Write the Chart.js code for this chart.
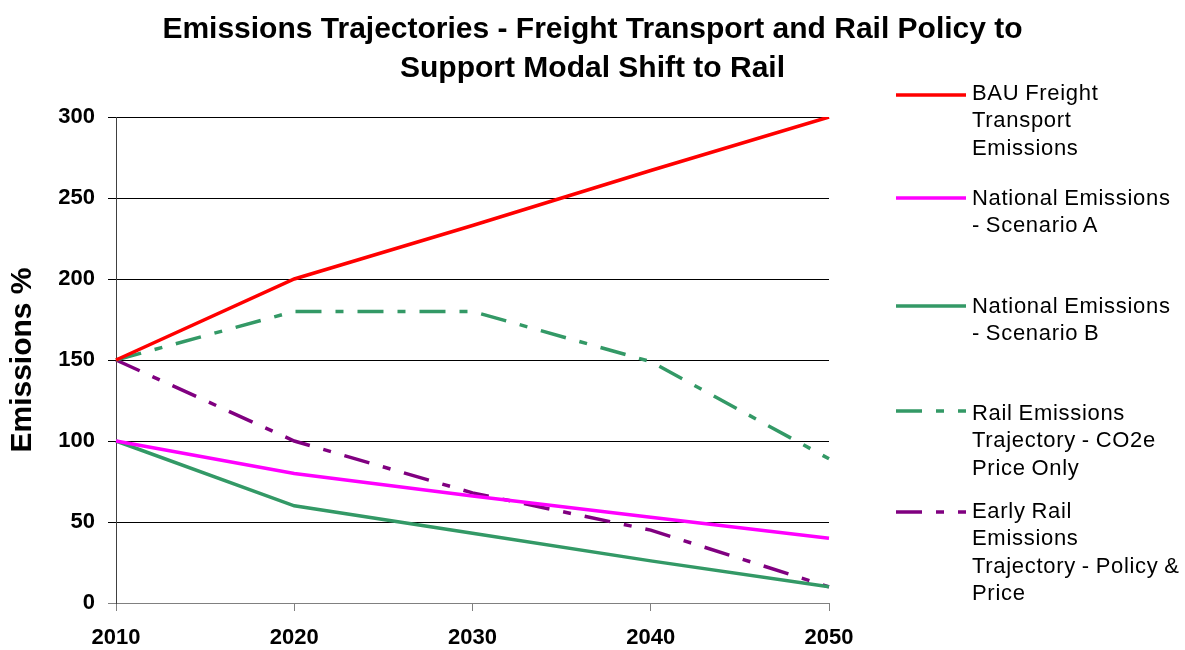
<!DOCTYPE html>
<html>
<head>
<meta charset="utf-8">
<script src="https://cdn.jsdelivr.net/npm/chart.js@4/dist/chart.umd.min.js"></script>
<style>
html,body{margin:0;padding:0;background:#fff;}
#wrap{position:relative;width:1185px;height:650px;overflow:hidden;}
#c{position:absolute;left:0;top:0;}
#legend{position:absolute;left:0;top:0;width:1185px;height:650px;pointer-events:none;}
.lg-text{position:absolute;left:972px;font-family:"Liberation Sans",Arial,sans-serif;font-size:22px;line-height:27.5px;letter-spacing:0.7px;word-spacing:-1px;color:#000;white-space:nowrap;}
</style>
</head>
<body>
<div id="wrap">
  <canvas id="c" width="1185" height="650"></canvas>
  <div id="legend"></div>
</div>
<script>
// ---- data ----
const years = ['2010', '2020', '2030', '2040', '2050'];
const bauFreight = [150, 200, 233, 267, 300];
const nationalA = [100, 80, 66, 53, 40];
const nationalB = [100, 60, 43, 26, 10];
const railPriceOnly = [150, 180, 180, 149, 89];
const earlyRailPolicy = [150, 100, 68, 45, 10];
const yTicks = [0, 50, 100, 150, 200, 250, 300];

const titleLines = ['Emissions Trajectories - Freight Transport and Rail Policy to', 'Support Modal Shift to Rail'];
const yTitle = 'Emissions %';
const legendLabels = [
  ['BAU Freight', 'Transport', 'Emissions'],
  ['National Emissions', '- Scenario A'],
  ['National Emissions', '- Scenario B'],
  ['Rail Emissions', 'Trajectory - CO2e', 'Price Only'],
  ['Early Rail', 'Emissions', 'Trajectory - Policy &', 'Price']
];

// ---- styles ----
const FONT = '"Liberation Sans", Arial, sans-serif';
const DASHDOT = [26, 14, 8, 14];
const styles = [
  {color: '#FF0000', dash: []},
  {color: '#FF00FF', dash: []},
  {color: '#339966', dash: []},
  {color: '#339966', dash: DASHDOT},
  {color: '#800080', dash: DASHDOT}
];
const seriesData = [bauFreight, nationalA, nationalB, railPriceOnly, earlyRailPolicy];

const datasets = seriesData.map((d, i) => ({
  label: legendLabels[i].join(' '),
  data: d,
  borderColor: styles[i].color,
  backgroundColor: styles[i].color,
  borderWidth: 3.5,
  borderDash: styles[i].dash,
  borderCapStyle: 'butt',
  pointRadius: 0,
  pointHoverRadius: 0,
  tension: 0,
  fill: false
}));

new Chart(document.getElementById('c'), {
  type: 'line',
  data: {labels: years, datasets: datasets},
  options: {
    responsive: false,
    animation: false,
    events: [],
    layout: {padding: {left: 0, right: 0, top: 0, bottom: 0}},
    plugins: {
      legend: {display: false},
      tooltip: {enabled: false},
      title: {
        display: true,
        text: titleLines,
        color: '#000',
        font: {family: FONT, size: 30, weight: 'bold', lineHeight: 1.3},
        padding: {top: 10, bottom: 29}
      }
    },
    scales: {
      x: {
        type: 'category',
        offset: false,
        grid: {display: true, drawOnChartArea: false, drawTicks: true, tickLength: 8, color: '#808080', lineWidth: 1},
        border: {display: true, color: '#808080', width: 1},
        ticks: {color: '#000', font: {family: FONT, size: 22, weight: 'bold'}, padding: 14, maxRotation: 0, autoSkip: false},
        afterFit: s => { s.height = 47; }
      },
      y: {
        type: 'linear',
        min: 0,
        max: 300,
        afterBuildTicks: s => { s.ticks = yTicks.map(v => ({value: v})); },
        grid: {
          drawOnChartArea: true, drawTicks: true, tickLength: 8, lineWidth: 1,
          color: c => (c.tick && c.tick.value === 0) ? '#808080' : '#000'
        },
        border: {display: true, color: '#404040', width: 1},
        ticks: {color: '#000', font: {family: FONT, size: 22, weight: 'bold'}, padding: 13},
        title: {
          display: true,
          text: yTitle,
          color: '#000',
          font: {family: FONT, size: 30, weight: 'bold', lineHeight: 1.2},
          padding: {top: 5, bottom: 0}
        },
        afterFit: s => { s.width = 116; }
      },
      spacer: {
        type: 'linear',
        position: 'right',
        display: true,
        grid: {display: false},
        border: {display: false},
        ticks: {display: false},
        afterFit: s => { s.width = 356; }
      }
    }
  }
});

// ---- legend (HTML text + SVG line samples) ----
const legendLineY = [95, 198, 306, 411, 512];
const legendBaseline = [100, 205, 313, 420, 518];
const lg = document.getElementById('legend');
const svgNS = 'http://www.w3.org/2000/svg';
const svg = document.createElementNS(svgNS, 'svg');
svg.setAttribute('width', '1185');
svg.setAttribute('height', '650');
svg.style.position = 'absolute';
svg.style.left = '0';
svg.style.top = '0';
lg.appendChild(svg);
legendLabels.forEach((lines, i) => {
  const ln = document.createElementNS(svgNS, 'line');
  ln.setAttribute('x1', 896);
  ln.setAttribute('x2', 966);
  ln.setAttribute('y1', legendLineY[i]);
  ln.setAttribute('y2', legendLineY[i]);
  ln.setAttribute('stroke', styles[i].color);
  ln.setAttribute('stroke-width', 3.5);
  if (styles[i].dash.length) ln.setAttribute('stroke-dasharray', styles[i].dash.join(' '));
  svg.appendChild(ln);
  const t = document.createElement('div');
  t.className = 'lg-text';
  t.style.top = (legendBaseline[i] - 21.4) + 'px';
  t.innerHTML = lines.map(s => s.replace(/&/g, '&amp;')).join('<br>');
  lg.appendChild(t);
});
</script>
</body>
</html>
